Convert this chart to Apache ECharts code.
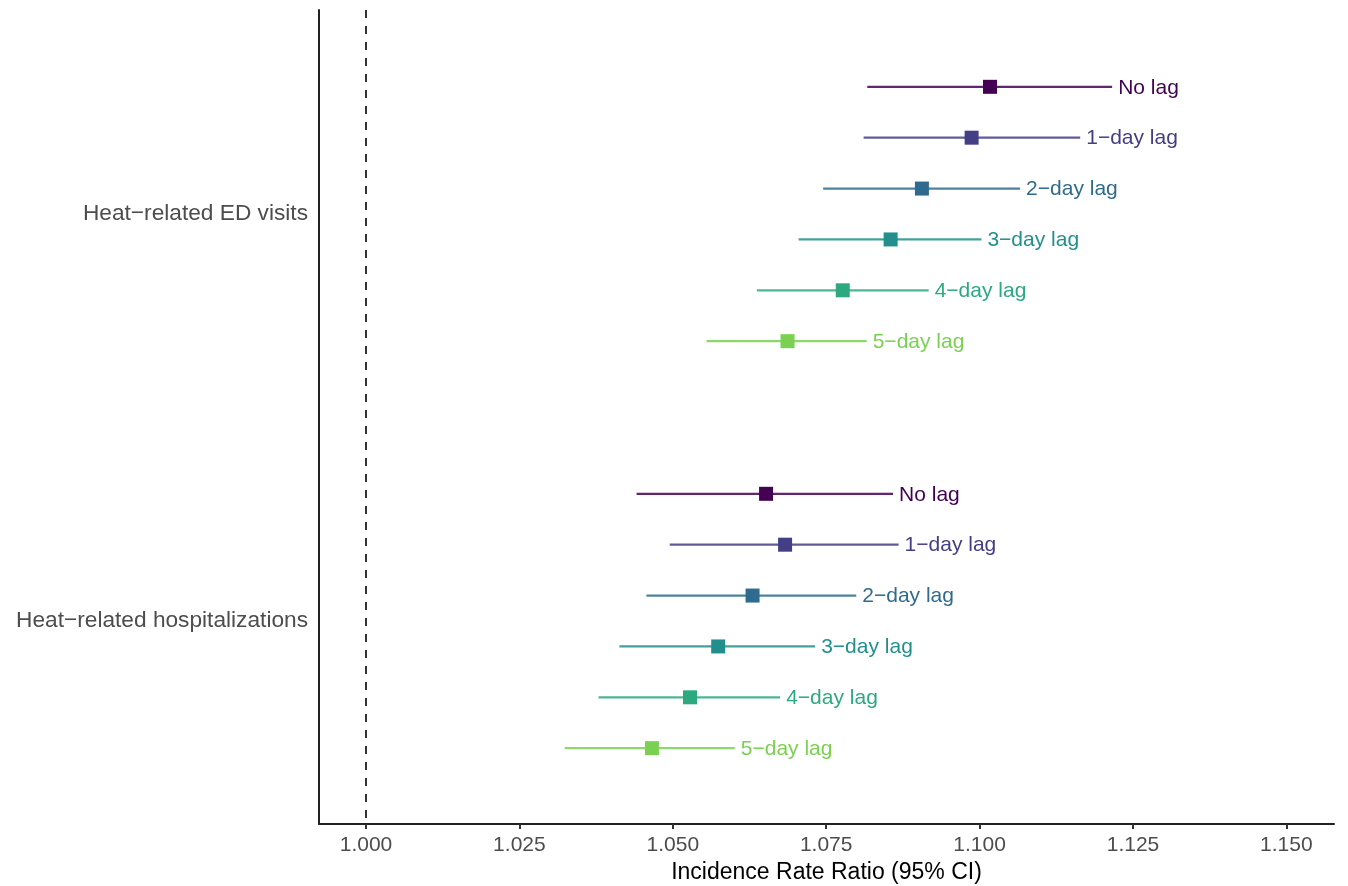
<!DOCTYPE html>
<html>
<head>
<meta charset="utf-8">
<script src="https://cdn.jsdelivr.net/npm/echarts@6/dist/echarts.min.js"></script>
<style>html,body{margin:0;padding:0;background:#fff;}#c{width:1348px;height:886px;}</style>
</head>
<body>
<div id="c"></div>
<script>
// ---- data ----
const categories = ['Heat\u2212related ED visits', 'Heat\u2212related hospitalizations'];
const lags = ['No lag', '1\u2212day lag', '2\u2212day lag', '3\u2212day lag', '4\u2212day lag', '5\u2212day lag'];
const edIRR   = [1.1017, 1.0987, 1.0906, 1.0855, 1.0777, 1.0687];
const edLower = [1.0817, 1.0811, 1.0745, 1.0705, 1.0637, 1.0555];
const edUpper = [1.1216, 1.1164, 1.1066, 1.1003, 1.0917, 1.0816];
const hospIRR   = [1.0652, 1.0683, 1.0630, 1.0574, 1.0528, 1.0466];
const hospLower = [1.0441, 1.0495, 1.0457, 1.0413, 1.0379, 1.0324];
const hospUpper = [1.0859, 1.0868, 1.0799, 1.0732, 1.0675, 1.0601];
const xTicks = [1.000, 1.025, 1.050, 1.075, 1.100, 1.125, 1.150];
const referenceLine = 1.0;

// ---- styling ----
const colors = ['#440154', '#433E85', '#2F6B8E', '#21908C', '#2CA97F', '#7AD151'];
const FONT = '"Liberation Sans", Arial, Helvetica, sans-serif';
const rowsPerGroup = lags.length + 2; // gap of 2 rows between groups

const groups = [
  {irr: edIRR, lo: edLower, hi: edUpper},
  {irr: hospIRR, lo: hospLower, hi: hospUpper}
];
const catCenters = categories.map((_, g) => g * rowsPerGroup + (lags.length - 1) / 2);

const series = lags.map((lag, i) => ({
  type: 'custom',
  name: lag,
  encode: {x: [1, 2, 3], y: 0},
  data: groups.map((g, gi) => [gi * rowsPerGroup + i, g.lo[i], g.irr[i], g.hi[i]]),
  renderItem: function (params, api) {
    const y = api.value(0);
    const lo = api.coord([api.value(1), y]);
    const pt = api.coord([api.value(2), y]);
    const hi = api.coord([api.value(3), y]);
    const c = colors[i];
    return {
      type: 'group',
      children: [
        {type: 'line', shape: {x1: lo[0], y1: lo[1] + 0.5, x2: hi[0], y2: hi[1] + 0.5},
         style: {stroke: c, lineWidth: 2.2, opacity: 0.85}},
        {type: 'rect', shape: {x: pt[0] - 7, y: pt[1] - 6.5, width: 14, height: 14},
         style: {fill: c}},
        {type: 'text', style: {text: lag, x: hi[0] + 6, y: hi[1] + 1.5, align: 'left', verticalAlign: 'middle',
          fill: c, fontSize: 21, fontFamily: FONT}}
      ]
    };
  },
  markLine: i === 0 ? {
    silent: true, symbol: 'none', label: {show: false},
    lineStyle: {color: '#000', type: [8, 8], width: 1.6, dashOffset: 0},
    data: [{xAxis: referenceLine}]
  } : undefined
}));

const chart = echarts.init(document.getElementById('c'), null, {renderer: 'canvas'});
chart.setOption({
  animation: false,
  backgroundColor: '#fff',
  grid: {left: 319, right: 14, top: 10, bottom: 62, containLabel: false, outerBoundsMode: 'none'},
  xAxis: {
    type: 'value',
    min: 0.99234, max: 1.15776,
    name: 'Incidence Rate Ratio (95% CI)',
    nameLocation: 'middle', nameGap: 36,
    nameTextStyle: {color: '#000', fontSize: 23, fontFamily: FONT},
    axisLine: {show: true, onZero: false, lineStyle: {color: '#222', width: 2}},
    axisTick: {show: true, length: 5, customValues: xTicks, lineStyle: {color: '#333', width: 2}},
    axisLabel: {customValues: xTicks, formatter: v => v.toFixed(3), color: '#4D4D4D', fontSize: 21, fontFamily: FONT, margin: 11},
    splitLine: {show: false}
  },
  yAxis: {
    type: 'value',
    inverse: true,
    min: -1.5, max: (categories.length - 1) * rowsPerGroup + lags.length + 0.5,
    axisLine: {show: true, onZero: false, lineStyle: {color: '#222', width: 2}},
    axisTick: {show: false},
    axisLabel: {
      customValues: catCenters,
      formatter: v => { const k = catCenters.indexOf(v); return k >= 0 ? categories[k] : ''; },
      color: '#4D4D4D', fontSize: 22.7, fontFamily: FONT, margin: 11, padding: [3, 0, 0, 0]
    },
    splitLine: {show: false}
  },
  series: series
});
</script>
</body>
</html>
